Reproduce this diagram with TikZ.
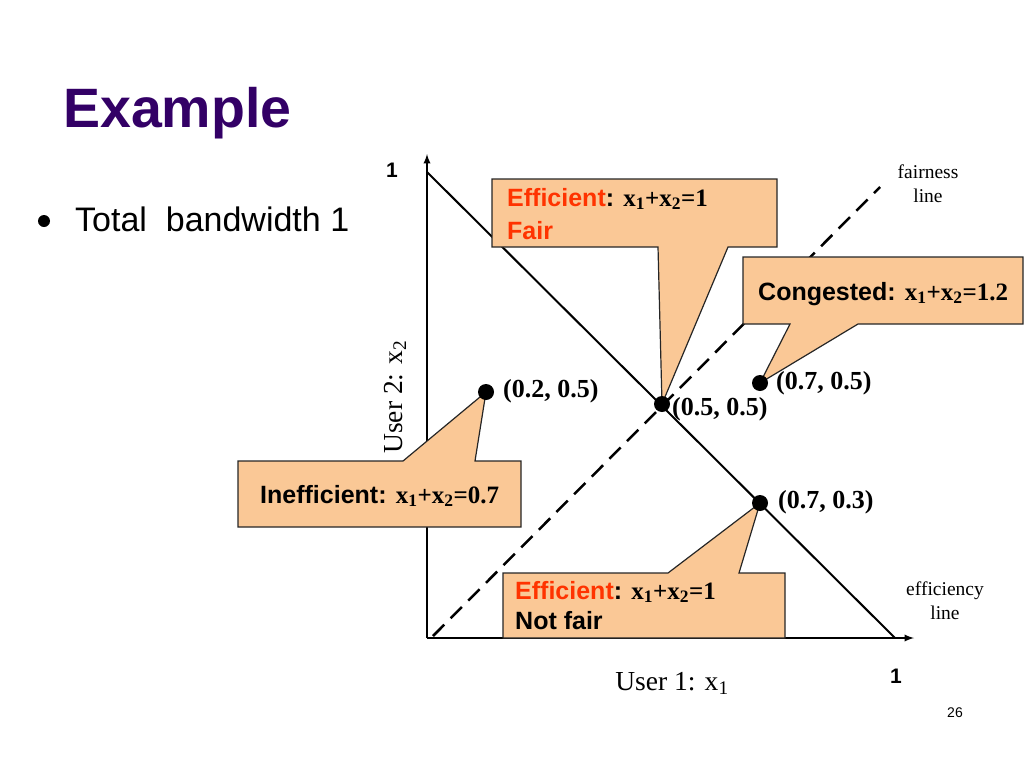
\documentclass[tikz,border=0pt]{standalone}
\usepackage{fontspec}
\setmainfont{Liberation Serif}
\setsansfont{Liberation Sans}
\usetikzlibrary{arrows,positioning}
\definecolor{peach}{RGB}{250,200,150}
\definecolor{titlepurple}{RGB}{51,0,102}
\definecolor{effred}{RGB}{255,51,0}
\tikzstyle{bubble} = [draw=black!85, fill=peach, line width=1.2pt, line join=miter]
\tikzstyle{dot} = [circle, fill=black, inner sep=0pt, minimum size=16pt]
\tikzstyle{axis} = [-latex, black, line width=2.2pt]
\tikzstyle{btext} = [inner sep=0pt, anchor=base west, font=\sffamily\bfseries\fontsize{25}{28}\selectfont]
\tikzstyle{ptlabel} = [inner sep=0pt, anchor=base west, font=\rmfamily\bfseries\fontsize{26}{30}\selectfont]
\tikzstyle{note} = [align=center, inner sep=0pt, font=\rmfamily\fontsize{19.5}{24}\selectfont]
\newcommand{\xsum}[1]{{\rmfamily x\textsubscript{1}+x\textsubscript{2}=#1}}

\begin{document}
\begin{tikzpicture}[x=1pt,y=-1pt]
  \useasboundingbox (0,0) rectangle (1024,768);
  % Title and bullet
  \node [anchor=base west, inner sep=0pt, text=titlepurple,
    font=\sffamily\bfseries\fontsize{55.5}{60}\selectfont] (title) at (63,127) {Example};
  \node [circle, fill=black, inner sep=0pt, minimum size=12pt] (bullet) at (44,221) {};
  \node [anchor=base west, inner sep=0pt, font=\sffamily\fontsize{34}{38}\selectfont]
    (total) at (75,231) {Total\ \ bandwidth 1};
  % Axes and lines
  \coordinate (O) at (427,638);
  \coordinate (ytop) at (427,154);
  \coordinate (xend) at (914,638);
  \coordinate (effA) at (427,172);
  \coordinate (effB) at (895,638);
  \coordinate (fairA) at (433,636);
  \coordinate (fairB) at (880,187);
  \draw [axis] (O) -- (ytop);
  \draw [axis] (O) -- (xend);
  \draw [black, line width=2pt] (effA) -- (effB);
  \draw [black, line width=2.5pt, dash pattern=on 16pt off 9pt] (fairA) -- (fairB);
  % Points
  \coordinate (P25) at (486,392);
  \coordinate (P55) at (662,404);
  \coordinate (P75) at (760,383);
  \coordinate (P73) at (760,503);
  % Callouts
  \draw [bubble] (492,179) -- (777,179) -- (777,247) -- (728,247) -- (P55)
    -- (658,247) -- (492,247) -- cycle;
  \draw [bubble] (743,257) -- (1023,257) -- (1023,324) -- (858,324) -- (P75)
    -- (790,324) -- (743,324) -- cycle;
  \draw [bubble] (238,461) -- (403,461) -- (P25) -- (475,461) -- (521,461)
    -- (521,527) -- (238,527) -- cycle;
  \draw [bubble] (503,573) -- (668,573) -- (P73) -- (739,573) -- (785,573)
    -- (785,638) -- (503,638) -- cycle;
  % Callout texts
  \node [btext] (fair1) at (507,206) {\textcolor{effred}{Efficient}: \xsum{1}};
  \node [btext, text=effred] (fair2) at (507,239) {Fair};
  \node [btext] (cong) at (758,300) {Congested: \xsum{1.2}};
  \node [btext] (ineff) at (260,503) {Inefficient: \xsum{0.7}};
  \node [btext] (unfair1) at (515,599) {\textcolor{effred}{Efficient}: \xsum{1}};
  \node [btext] (unfair2) at (515,629) {Not fair};
  % Dots and their labels
  \node [dot] (d25) at (P25) {};
  \node [dot] (d55) at (P55) {};
  \node [dot] (d75) at (P75) {};
  \node [dot] (d73) at (P73) {};
  \node [ptlabel] (l25) at (503,397) {(0.2, 0.5)};
  \node [ptlabel] (l55) at (672,415) {(0.5, 0.5)};
  \node [ptlabel] (l75) at (776,389) {(0.7, 0.5)};
  \node [ptlabel] (l73) at (778,508) {(0.7, 0.3)};
  % Axis labels
  \node [font=\sffamily\bfseries\fontsize{21}{24}\selectfont, inner sep=0pt] (one2) at (392,170) {1};
  \node [font=\sffamily\bfseries\fontsize{21}{24}\selectfont, inner sep=0pt] (one1) at (896,676) {1};
  \node [rotate=90, inner sep=0pt, font=\rmfamily\fontsize{27.5}{30}\selectfont] (user2) at (395,397) {User 2: x\textsubscript{2}};
  \node [inner sep=0pt, font=\rmfamily\fontsize{27.5}{30}\selectfont] (user1) at (672,683) {User 1: x\textsubscript{1}};
  \node [note] (fairnote) at (928,184) {fairness\\line};
  \node [note] (effnote) at (945,601) {efficiency\\line};
  \node [inner sep=0pt, font=\sffamily\fontsize{14}{16}\selectfont] (page) at (955,713) {26};
\end{tikzpicture}
\end{document}
